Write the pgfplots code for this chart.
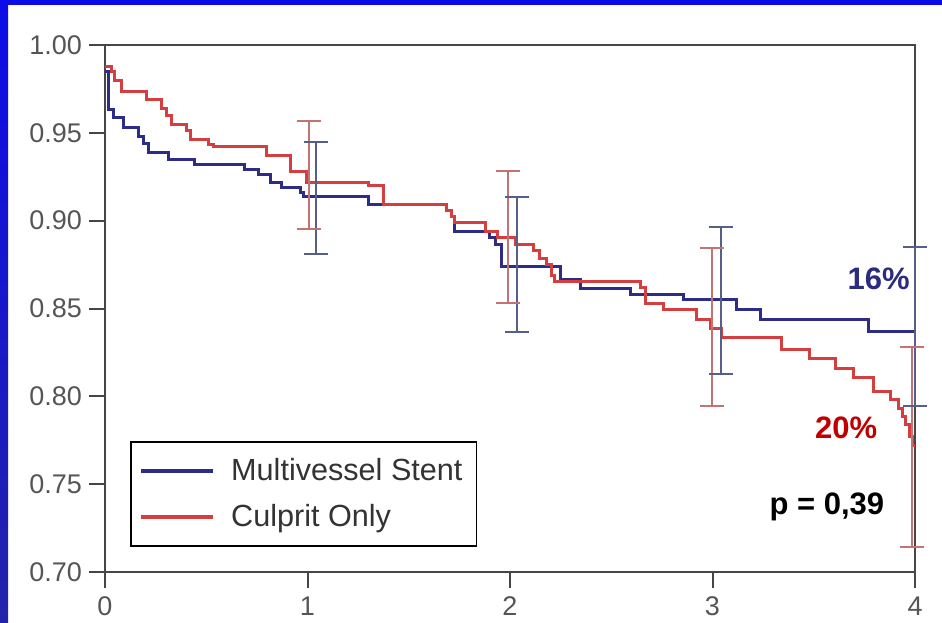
\documentclass[border=0pt]{standalone}
\usepackage{pgfplots}
\pgfplotsset{compat=1.18}
\usepackage{fontspec}
\setmainfont{Liberation Sans}
\definecolor{bgblue}{RGB}{12,12,232}
\definecolor{bgblue2}{RGB}{35,35,170}
\definecolor{curveblue}{RGB}{45,45,135}
\definecolor{curvered}{RGB}{212,62,62}
\definecolor{barblue}{RGB}{85,95,135}
\definecolor{barred}{RGB}{195,115,115}
\definecolor{axgray}{RGB}{70,70,70}
\definecolor{lblgray}{RGB}{85,85,85}
\definecolor{txtnavy}{RGB}{43,43,127}
\definecolor{txtred}{RGB}{192,0,0}
\begin{document}
\begin{tikzpicture}
\useasboundingbox (0pt,0pt) rectangle (471pt,311pt);
\fill[white] (0pt,0pt) rectangle (471pt,311pt);
\fill[bgblue] (0pt,308.5pt) rectangle (471pt,311pt);
\shade[top color=bgblue, bottom color=bgblue2] (0pt,0pt) rectangle (4pt,311pt);
\begin{axis}[
  at={(52.5pt,25pt)}, anchor=south west,
  scale only axis, width=405pt, height=263.5pt,
  xmin=0, xmax=4, ymin=0.70, ymax=1.00,
  clip=false,
  axis line style={axgray, line width=1pt},
  xtick={0,1,2,3,4}, xticklabels={0,1,2,3,4},
  ytick={0.70,0.75,0.80,0.85,0.90,0.95,1.00},
  yticklabels={0.70,0.75,0.80,0.85,0.90,0.95,1.00},
  xtick pos=left, ytick pos=left,
  tick align=outside, major tick length=8pt,
  tick style={axgray, line width=1pt},
  ticklabel style={font=\fontsize{13.5}{15}\selectfont, text=lblgray},
  xticklabel style={yshift=-1pt},
  yticklabel style={xshift=0pt},
  legend style={at={(axis cs:0.123,0.7746)}, anchor=north west,
    draw=black, line width=0.9pt, inner xsep=4pt, inner ysep=6.2pt,
    font=\fontsize{15.3}{17}\selectfont, text=black!80, row sep=6.5pt,
    /tikz/every odd column/.append style={column sep=6pt}},
  legend cell align=left,
  legend image code/.code={\draw[#1, line width=2.2pt] (0pt,0pt) -- (36pt,0pt);},
]
\addplot[const plot, curveblue, line width=1.5pt] coordinates {
(0,0.985) (0.015,0.963) (0.041,0.959) (0.090,0.953) (0.165,0.948) (0.189,0.944)
(0.214,0.939) (0.313,0.9346) (0.444,0.932) (0.691,0.929) (0.757,0.926) (0.815,0.922)
(0.872,0.919) (0.963,0.916) (0.98,0.9137) (1.30,0.909) (1.687,0.906) (1.71,0.9023)
(1.728,0.8938) (1.90,0.8906) (1.93,0.8862) (1.959,0.8738) (2.247,0.8663) (2.346,0.8616)
(2.593,0.8577) (2.856,0.855) (3.12,0.8496) (3.235,0.8435) (3.77,0.8369) (4.0,0.8369)};
\addlegendentry{Multivessel Stent\hspace*{1pt}}
\addplot[const plot, curvered, line width=1.5pt] coordinates {
(0,0.988) (0.033,0.985) (0.049,0.980) (0.082,0.9734) (0.206,0.9687) (0.28,0.964)
(0.305,0.960) (0.33,0.9545) (0.403,0.9516) (0.42,0.946) (0.51,0.9431) (0.535,0.9425)
(0.798,0.937) (0.914,0.928) (0.996,0.9217) (1.30,0.9198) (1.375,0.909) (1.687,0.906)
(1.71,0.9023) (1.728,0.8989) (1.877,0.8938) (1.94,0.8906) (2.025,0.8866) (2.115,0.8833)
(2.148,0.8786) (2.18,0.875) (2.205,0.869) (2.22,0.8653) (2.642,0.862) (2.667,0.853)
(2.757,0.8492) (2.92,0.8435) (2.99,0.8388) (3.045,0.8337) (3.342,0.8268) (3.481,0.8217)
(3.605,0.816) (3.695,0.811) (3.794,0.8027) (3.877,0.798) (3.918,0.7932) (3.94,0.7885)
(3.955,0.7837) (3.975,0.777) (3.99,0.772) (3.995,0.771)};
\addlegendentry{Culprit Only}
% error bars
\pgfplotsset{rbar/.style={forget plot, barred, line width=1pt, mark=-, mark size=6pt, mark options={solid, barred, line width=1pt}},
             bbar/.style={forget plot, barblue, line width=1pt, mark=-, mark size=6pt, mark options={solid, barblue, line width=1pt}}}
\addplot[rbar] coordinates {(1.005,0.957) (1.005,0.8953)};
\addplot[rbar] coordinates {(1.99,0.9285) (1.99,0.853)};
\addplot[rbar] coordinates {(2.996,0.8843) (2.996,0.7945)};
\addplot[rbar] coordinates {(3.985,0.8283) (3.985,0.7144)};
\addplot[bbar] coordinates {(1.04,0.9446) (1.04,0.8809)};
\addplot[bbar] coordinates {(2.036,0.9137) (2.036,0.8369)};
\addplot[bbar] coordinates {(3.04,0.8966) (3.04,0.8128)};
\addplot[bbar] coordinates {(4.0,0.8848) (4.0,0.7945)};
\node[font=\bfseries\fontsize{15.5}{17}\selectfont, text=txtnavy] at (axis cs:3.82,0.8668) {16\%};
\node[font=\bfseries\fontsize{15.5}{17}\selectfont, text=txtred] at (axis cs:3.66,0.782) {20\%};
\node[font=\bfseries\fontsize{15.5}{17}\selectfont, text=black] at (axis cs:3.565,0.737) {p = 0,39};
\end{axis}
\end{tikzpicture}
\end{document}
